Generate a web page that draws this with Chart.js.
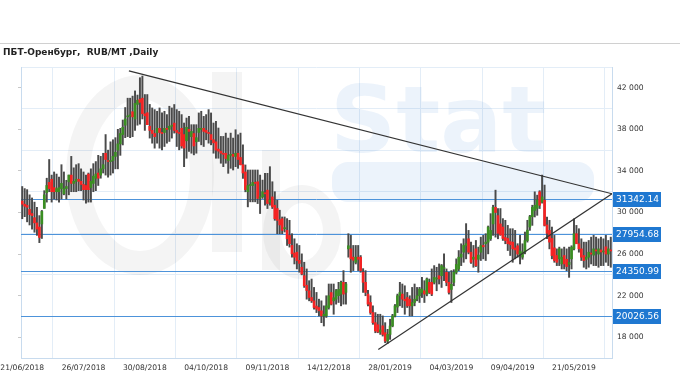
<!DOCTYPE html>
<html>
<head>
<meta charset="utf-8">
<script src="https://cdn.jsdelivr.net/npm/chart.js@4.4.0/dist/chart.umd.min.js"></script>
<style>
  html, body { margin: 0; padding: 0; background: #fff; }
  #wrap { position: relative; width: 680px; height: 380px; }
</style>
</head>
<body>
<div id="wrap"><canvas id="priceChart" width="680" height="380"></canvas></div>
<script>
// daily OHLC, one entry per trading day (index 0 = 21/06/2018)
const opens = [
  31100,30800,30700,30300,29900,29500,29000,28600,28900,30400,
  31900,32900,33200,32400,32000,32000,32300,31800,32300,32950,
  33600,32800,33000,33200,33000,32700,32600,33700,32400,32800,
  33300,33800,33600,34200,35700,35000,34900,35000,35400,36000,
  36600,37500,38400,39200,39300,39700,39000,40400,40900,41000,
  39500,39600,38300,37900,37600,37700,38100,37700,37700,38100,
  38000,38300,38600,37900,37700,38100,37500,36900,38000,37300,
  37600,36800,37700,38000,38100,37900,37700,37500,37000,36800,
  36100,35900,35700,35700,35000,35500,35600,35400,35700,35300,
  34600,33900,32000,32600,32600,32900,32960,31400,31500,31900,
  32150,31000,31500,30700,30380,29300,29400,28440,28280,27800,
  26830,26100,26180,25400,24730,23920,23000,22470,21820,21500,
  21000,20860,20540,20050,20050,20860,22300,21500,21660,22000,
  22150,23280,22320,26500,26500,25700,25200,25700,25700,24250,
  23280,22150,21340,20370,19400,19200,18500,19100,18430,17630,
  18270,19080,20050,20900,21990,22150,21660,21820,21660,21020,
  21340,21660,21990,22300,22470,22150,23280,23280,23280,23600,
  23920,23920,24600,24250,23280,22600,23280,24250,24570,25700,
  26180,26830,27470,26180,25500,26500,25500,26180,26830,26990,
  27150,27470,28900,30500,29700,28900,28600,27600,27500,27200,
  27150,26600,26800,26000,25700,26200,27300,28600,29600,30200,
  30400,31990,31000,31180,28800,28280,27500,26600,25860,25540,
  25050,25860,25500,25000,25540,26500,27960,26990,26500,25860,
  25500,25700,26100,25900,26400,26000,26400,26200,26700,26000,26400
];
const highs = [
  32500,32300,32200,31700,31400,31000,30500,29700,30200,32100,
  33300,35100,33600,33900,33700,33400,34600,33900,33100,33600,
  35400,34300,34600,34700,34200,33900,33600,33800,34200,34700,
  34900,35500,35400,35700,37500,36000,36800,37000,37200,38000,
  38100,38900,40100,41000,41000,41200,41700,41300,42970,43130,
  41350,41350,40400,40060,39900,39740,40060,39580,39740,39420,
  40225,40060,40390,39900,39740,39420,38610,39090,39250,38450,
  38450,38450,39580,39740,39250,39420,39900,39580,38610,38770,
  38130,37320,37320,37640,37160,37640,37160,37965,37480,37640,
  36510,34575,34090,34090,34090,34090,34090,33600,33120,33770,
  33770,34410,32960,32000,31190,30220,29570,29570,29410,29250,
  27960,27470,26990,26830,26020,25210,24570,23440,23600,22790,
  22310,21660,21500,21020,21990,23120,23120,23120,22600,23280,
  23400,24410,23280,27960,27800,26830,26830,26830,25860,24600,
  24410,22500,21990,21020,20370,20210,20210,20050,19400,18760,
  19730,20200,21150,22150,23280,23120,22950,22310,21990,22790,
  23120,22790,22800,23760,23440,23700,23600,24570,24890,24730,
  25050,25000,26020,24570,24250,24410,24500,25540,26340,26990,
  27470,28930,28280,27150,26830,27310,26670,27630,27800,27960,
  28700,29890,30700,32150,30380,30380,29410,29250,28760,28440,
  28440,28280,27000,27800,26990,28120,29250,29730,30700,31990,
  31670,32100,33600,32640,29570,29250,28600,27800,26500,26670,
  26500,26670,26500,26670,26800,29400,28760,28440,27470,27150,
  27150,27310,27630,27800,27630,27470,27630,27470,27800,27310,27630
];
const lows = [
  29400,29600,29100,28800,28400,28100,27800,27100,27500,30400,
  31000,32000,31000,31300,31200,31000,31300,31700,31300,31700,
  32000,32000,32000,32100,32100,31200,30900,31000,31000,32000,
  32100,32600,33300,33800,33600,33400,33600,33800,34200,34200,
  35500,36500,37200,37300,37200,37300,37900,38400,38500,39000,
  37900,38450,37160,36670,36190,36670,36190,36030,36350,36670,
  36835,37160,37640,36350,36030,36190,34410,35220,35870,35705,
  35545,35705,36835,36510,36350,36995,36670,36510,35705,35220,
  35220,34740,34410,34740,33770,34250,34090,34410,34250,34575,
  33280,31990,30540,31025,31025,31025,30860,29900,31350,30700,
  30380,30700,30380,29250,27960,27960,27960,28120,26830,26670,
  25700,25050,24570,24250,24000,22790,21660,21500,21340,20700,
  20370,20050,19400,19080,19900,20700,21100,20210,21180,21340,
  21020,21180,21180,25700,24250,24410,25050,24410,24250,22310,
  21990,21020,20210,19240,18430,18430,18270,18110,17470,17400,
  17790,19000,19950,20370,21020,20860,20210,20860,20050,20050,
  21020,21500,21340,21820,21340,21980,22200,22000,23120,22470,
  23120,22790,23440,22950,22150,21340,22950,24090,24400,24890,
  25210,25540,26020,25100,24730,24800,24250,25380,25540,25380,
  26020,27310,27800,27630,27470,27800,27310,26990,26340,25860,
  25210,25540,25700,25050,25500,26020,27150,28280,28760,29570,
  29730,30380,30900,28700,27470,26500,25540,25210,24890,24890,
  24570,24570,24400,23760,24570,26400,26990,26180,25380,24730,
  24570,24730,25050,24890,24890,24730,24890,24890,25210,24890,24730
];
const closes = [
  30800,30600,30500,29800,29700,29000,28400,27600,30100,31700,
  32600,32300,32000,32000,32300,32400,32800,32300,32500,33600,
  32800,33000,33200,33000,32700,32200,32200,32200,33000,33500,
  33700,33300,34200,34600,35100,34900,35000,35400,35800,36600,
  37600,38200,39000,39300,39350,39200,40500,40800,40600,39500,
  39300,38450,37900,37600,37300,38100,37700,37600,38100,38000,
  38300,38400,37900,37700,37600,36400,36200,38200,37800,37800,
  36400,37200,38100,38100,37800,37700,37600,37000,36700,36000,
  35900,35700,35600,35200,35500,35600,35400,35700,35100,34600,
  33800,32200,32600,32650,32900,32800,31350,31500,32000,31800,
  30860,31200,30540,29400,29250,28800,28280,28480,27470,27000,
  26020,25700,25380,25100,24090,22950,22500,21820,21500,20860,
  20700,20540,20050,20200,21020,21990,21180,21800,22470,22600,
  23280,22150,23120,26800,25540,25400,25700,25500,24410,23280,
  22310,21180,20370,19400,18600,18500,18700,18270,17630,18270,
  19080,20050,21020,21990,22300,21660,21500,21020,21020,21340,
  21660,21990,22630,22630,22150,23600,22310,22150,23760,23650,
  23600,24890,24650,23280,22310,23100,24250,25000,25700,26000,
  26830,27000,26180,25210,25700,24890,25900,26830,26700,27150,
  28600,28280,30500,30000,28000,27850,27500,27300,27000,26900,
  26500,26400,26000,26300,26200,27300,28300,29600,30500,30700,
  31200,30700,31500,28760,28000,27150,25860,25380,25210,26500,
  25700,25050,24800,25200,26670,27960,27000,26500,25700,25380,
  25700,26180,26000,26500,26300,26500,26200,26300,26000,26500,26300
];

const chartTitle = 'ПБТ-Оренбург,  RUB/MT ,Daily';
const tickIdx = [0, 25, 50, 75, 100, 125, 150, 175, 200, 225];
const tickLabels = ['21/06/2018', '26/07/2018', '30/08/2018', '04/10/2018', '09/11/2018',
                    '14/12/2018', '28/01/2019', '04/03/2019', '09/04/2019', '21/05/2019'];
const yLabelVals = [18000, 22000, 26000, 30000, 34000, 38000, 42000];
const yGridVals = [16000, 20000, 24000, 28000, 32000, 36000, 40000, 44000];
const levels = [31342.14, 27954.68, 24350.99, 20026.56];
// trend lines: bar position / price at both ends
const downTrendX = [43.5, 240.5];
const downTrendY = [43620, 31800];
const upTrendX = [145.2, 240.5];
const upTrendY = [16820, 31800];

const font = 'DejaVu Sans';
const gridColor = '#e3edf7';
const borderColor = '#c8dbee';

const wickData = lows.map((lo, i) => ({ x: i, y: [lo, highs[i]] }));
const bodyData = opens.map((o, i) => ({ x: i, y: [o, closes[i]] }));
const bodyColors = opens.map((o, i) => closes[i] > o ? '#3a8e22' : (closes[i] < o ? '#f52222' : '#222'));

const fmt = v => Math.floor(v / 1000) + ' ' + String(v % 1000).padStart(3, '0');

// faint site logo behind the bars
function drawWatermark(ctx) {
  ctx.save();
  ctx.strokeStyle = 'rgba(0,0,0,0.045)';
  ctx.fillStyle = 'rgba(0,0,0,0.045)';
  ctx.lineWidth = 24;
  ctx.beginPath();
  ctx.ellipse(140, 175, 62, 88, 0, 0, Math.PI * 2);
  ctx.stroke();
  ctx.fillRect(212, 72, 30, 180);
  ctx.lineWidth = 18;
  ctx.beginPath();
  ctx.ellipse(302, 232, 30, 38, 0, 0, Math.PI * 2);
  ctx.stroke();
  ctx.fillRect(262, 150, 18, 120);
  ctx.fillStyle = 'rgba(40,125,210,0.09)';
  ctx.font = 'bold 92px "' + font + '"';
  ctx.textBaseline = 'alphabetic';
  ctx.fillText('Stat', 330, 152);
  ctx.beginPath();
  ctx.roundRect(332, 162, 262, 40, 16);
  ctx.fill();
  ctx.restore();
}

const extras = {
  id: 'extras',
  beforeDraw(chart) {
    const ctx = chart.ctx;
    ctx.save();
    ctx.strokeStyle = '#d0d0d0';
    ctx.lineWidth = 1;
    ctx.beginPath();
    ctx.moveTo(0, 43.5);
    ctx.lineTo(chart.width, 43.5);
    ctx.stroke();
    ctx.fillStyle = '#222';
    ctx.font = 'bold 9px "' + font + '"';
    ctx.textBaseline = 'alphabetic';
    ctx.fillText(chartTitle, 3, 55);
    ctx.restore();
  },
  beforeDatasetsDraw(chart) {
    const { ctx, chartArea: a, scales: { y } } = chart;
    ctx.save();
    ctx.beginPath();
    ctx.rect(a.left, a.top, a.right - a.left, a.bottom - a.top);
    ctx.clip();
    drawWatermark(ctx);
    ctx.restore();
    ctx.save();
    ctx.strokeStyle = '#4d93da';
    ctx.lineWidth = 1;
    levels.forEach(v => {
      const py = Math.round(y.getPixelForValue(v)) + 0.5;
      ctx.beginPath();
      ctx.moveTo(a.left, py);
      ctx.lineTo(a.right, py);
      ctx.stroke();
    });
    ctx.restore();
  },
  afterDraw(chart) {
    const { ctx, chartArea: a, scales: { y } } = chart;
    ctx.save();
    ctx.font = '9px "' + font + '"';
    ctx.textBaseline = 'middle';
    levels.forEach(v => {
      const py = Math.round(y.getPixelForValue(v));
      ctx.fillStyle = '#1f78d1';
      ctx.fillRect(a.right + 1, py - 7, 48, 15);
      ctx.fillStyle = '#fff';
      ctx.fillText(v.toFixed(2), a.right + 4, py + 1);
    });
    ctx.restore();
  }
};

new Chart(document.getElementById('priceChart'), {
  type: 'bar',
  data: {
    datasets: [
      {
        type: 'line',
        data: downTrendX.map((x, i) => ({ x: x, y: downTrendY[i] })),
        borderColor: '#333',
        borderWidth: 1.2,
        pointRadius: 0,
        order: -1
      },
      {
        type: 'line',
        data: upTrendX.map((x, i) => ({ x: x, y: upTrendY[i] })),
        borderColor: '#333',
        borderWidth: 1.2,
        pointRadius: 0,
        order: -1
      },
      {
        data: bodyData,
        backgroundColor: bodyColors,
        barThickness: 2,
        minBarLength: 1,
        grouped: false,
        order: 0
      },
      {
        data: wickData,
        backgroundColor: '#4a4a4a',
        barThickness: 1.3,
        grouped: false,
        order: 1
      }
    ]
  },
  options: {
    responsive: false,
    animation: false,
    layout: { padding: { top: 67 } },
    plugins: { legend: { display: false }, tooltip: { enabled: false } },
    scales: {
      x: {
        type: 'linear',
        min: -0.5,
        max: 240.5,
        offset: false,
        afterBuildTicks: s => { s.ticks = tickIdx.map(v => ({ value: v })); },
        afterFit: s => { s.height = 22; s.paddingLeft = 0; s.paddingRight = 0; },
        ticks: {
          callback: (v, i) => tickLabels[i],
          autoSkip: false,
          maxRotation: 0,
          padding: 5,
          color: '#333',
          font: { family: font, size: 7.6 }
        },
        grid: { color: gridColor, drawTicks: false },
        border: { color: borderColor }
      },
      y: {
        position: 'right',
        min: 16000,
        max: 44000,
        afterBuildTicks: s => {
          s.ticks = yGridVals.concat(yLabelVals).sort((a, b) => a - b).map(v => ({ value: v }));
        },
        afterFit: s => { s.width = 68; },
        ticks: {
          callback: v => yLabelVals.includes(v) ? fmt(v) : '',
          padding: 5,
          color: '#333',
          font: { family: font, size: 7.6 }
        },
        grid: {
          color: c => yGridVals.includes(c.tick.value) ? gridColor : 'rgba(0,0,0,0)',
          drawTicks: false
        },
        border: { color: borderColor }
      },
      yLeft: {
        position: 'left',
        min: 16000,
        max: 44000,
        afterBuildTicks: s => { s.ticks = yLabelVals.map(v => ({ value: v })); },
        afterFit: s => { s.width = 21; },
        ticks: { display: false },
        grid: { drawOnChartArea: false, tickLength: 3, color: '#c8c8c8' },
        border: { color: borderColor }
      }
    }
  },
  plugins: [extras]
});
</script>
</body>
</html>
